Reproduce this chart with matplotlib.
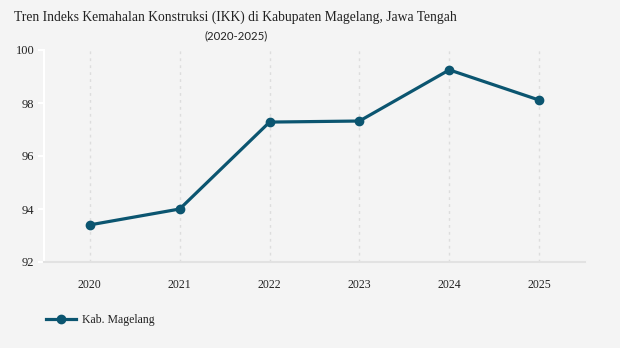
import matplotlib
matplotlib.use("Agg")
import matplotlib.pyplot as plt

years = ["2020", "2021", "2022", "2023", "2024", "2025"]
ikk = [93.40, 94.00, 97.28, 97.32, 99.25, 98.11]
yticks = [92, 94, 96, 98, 100]

bg = "#f4f4f4"
col = "#0b5570"

fig = plt.figure(figsize=(6.2, 3.48), dpi=100, facecolor=bg)
ax = fig.add_axes([44/620, 1-262/348, (585-44)/620, (262-50)/348], facecolor=bg)

x = list(range(len(years)))
ax.plot(x, ikk, color=col, lw=2.3, marker="o", ms=6, label="Kab. Magelang", zorder=3)

ax.set_xlim(-0.51, 5.51)
ax.set_ylim(92, 100)
ax.set_xticks(x)
ax.set_xticklabels(years, family="Liberation Serif", fontsize=8.5, color="#222222")
ax.set_yticks(yticks)
ax.set_yticklabels([str(v) for v in yticks], family="Liberation Serif", fontsize=9, color="#222222")
ax.xaxis.grid(True, color="#dddddd", ls=(0, (2, 3)), lw=1)
ax.yaxis.grid(False)
for s in ["top", "right"]:
    ax.spines[s].set_visible(False)
ax.spines["left"].set_color("white")
ax.spines["left"].set_linewidth(1.5)
ax.spines["bottom"].set_color("#e2e2e2")
ax.spines["bottom"].set_linewidth(1.5)
ax.tick_params(axis="y", color="white", length=4, width=1.5, pad=3)
ax.tick_params(axis="x", length=0, pad=12)

fig.text(235/620, 1-17/348, "Tren Indeks Kemahalan Konstruksi (IKK) di Kabupaten Magelang, Jawa Tengah",
         ha="center", va="center", family="Liberation Serif", fontsize=9.8, color="#222222")
fig.text(236/620, 1-36/348, "(2020-2025)", ha="center", va="center",
         family="Lato", fontsize=8.2, color="#222222")

leg = fig.legend(loc="center left", bbox_to_anchor=(35/620, 1-320/348), frameon=False,
                 prop={"family": "Liberation Serif", "size": 8.5}, handlelength=2.6,
                 handletextpad=0.5)
for t in leg.get_texts():
    t.set_color("#222222")

fig.savefig("out.png", dpi=100, facecolor=bg)
